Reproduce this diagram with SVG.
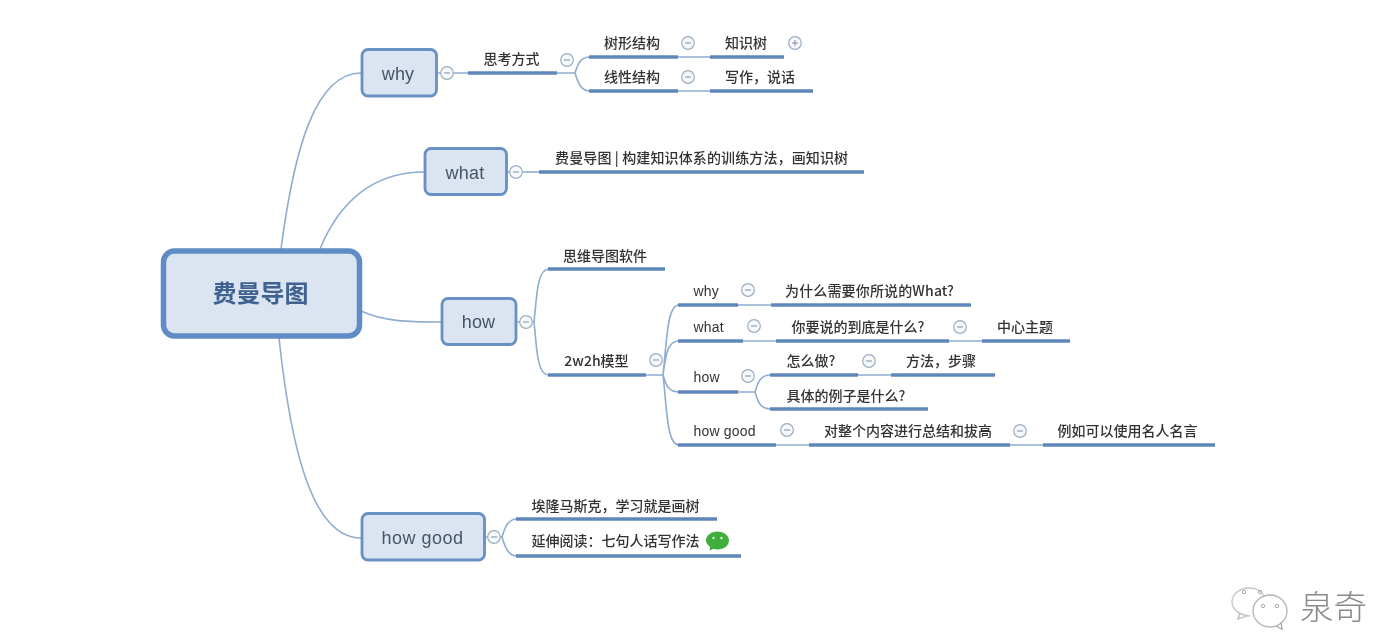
<svg xmlns="http://www.w3.org/2000/svg" width="1390" height="642" viewBox="0 0 1390 642">
<style>
.c{fill:none;stroke:#8eadd0;stroke-width:1.6}
.bar{fill:none;stroke:#5f86b8;stroke-width:3.6}
.col{fill:#f6f8fb;stroke:#9aaec2;stroke-width:1.2}
.sym{fill:none;stroke:#7d8fa3;stroke-width:1}
.t{font-family:"Noto Sans CJK SC","Liberation Sans",sans-serif;font-size:14px;fill:#333;text-anchor:middle;font-weight:500}
.l{font-family:"Liberation Sans","Noto Sans CJK SC",sans-serif;font-size:14px;fill:#333;text-anchor:start;letter-spacing:.2px}
.b{fill:#dbe5f1;stroke:#6790c2;stroke-width:2.8}
.bt{font-family:"Liberation Sans",sans-serif;font-size:18px;fill:#465468;text-anchor:middle;letter-spacing:.2px}
</style>
<defs>
<filter id="soft" x="-5%" y="-5%" width="110%" height="110%"><feGaussianBlur stdDeviation="0.5"/></filter>
<g id="minus"><circle r="6.3" class="col"/><path d="M-3 0H3" class="sym"/></g>
<g id="plus"><circle r="6.3" class="col"/><path d="M-3 0H3M0-3V3" class="sym"/></g>
</defs>
<rect width="1390" height="642" fill="#fff"/>
<g filter="url(#soft)">
<g id="connectors">
<path class="c" d="M281 249C294 150 315 73 361 73"/>
<path class="c" d="M320 249C340 200 375 172 424 172"/>
<path class="c" d="M361 311C385 322 410 322 441 322"/>
<path class="c" d="M279 338C290 440 310 538 361 538"/>
<path class="c" d="M437 73H468M557 73H575M575 73C578 63 581 57 590 57M575 73C578 83 581 91 590 91"/>
<path class="c" d="M678 57H710M678 91H710"/>
<path class="c" d="M507 172H539"/>
<path class="c" d="M517 322H534M534 322C537 295 537 269 549 269M534 322C537 350 537 375 549 375"/>
<path class="c" d="M646 375H663M663 375C667 340 667 305 679 305M663 375C666 355 667 341 679 341M663 375C666 385 668 392 679 392M663 375C667 410 667 445 679 445"/>
<path class="c" d="M738 305H771M743 341H776M949 341H982M738 392H755M755 392C758 382 760 375 771 375M755 392C758 402 760 409 771 409M858 375H891M776 445H809M1010 445H1043"/>
<path class="c" d="M486 537H502M502 537C505 527 508 519 517 519M502 537C505 547 508 556 517 556"/>
<g class="bars">
<path class="bar" d="M468 73H557"/>
<path class="bar" d="M589 57H678"/>
<path class="bar" d="M589 91H678"/>
<path class="bar" d="M710 57H784"/>
<path class="bar" d="M710 91H813"/>
<path class="bar" d="M539 172H864"/>
<path class="bar" d="M548 269H665"/>
<path class="bar" d="M548 375H646"/>
<path class="bar" d="M678 305H738"/>
<path class="bar" d="M771 305H971"/>
<path class="bar" d="M678 341H743"/>
<path class="bar" d="M776 341H949"/>
<path class="bar" d="M982 341H1070"/>
<path class="bar" d="M678 392H738"/>
<path class="bar" d="M770 375H858"/>
<path class="bar" d="M891 375H995"/>
<path class="bar" d="M770 409H928"/>
<path class="bar" d="M678 445H776"/>
<path class="bar" d="M809 445H1010"/>
<path class="bar" d="M1043 445H1215"/>
<path class="bar" d="M516 519H717"/>
<path class="bar" d="M516 556H741"/>
</g>
</g>
<g id="center"><rect x="163.500" y="251" width="196" height="85" rx="11" fill="#dbe5f1" stroke="#5f8cc4" stroke-width="5.500"/><text x="260.500" y="302" text-anchor="middle" font-family="Noto Sans CJK SC,sans-serif" font-size="24" font-weight="700" fill="#3f6290">费曼导图</text></g>
<g id="why"><rect class="b" x="362" y="49.500" width="74.500" height="46.500" rx="6"/><text class="bt" x="398" y="80">why</text><use href="#minus" x="447" y="73"/></g>
<g id="what"><rect class="b" x="425" y="148.500" width="81.500" height="46" rx="6"/><text class="bt" x="465" y="179">what</text><use href="#minus" x="516" y="172"/></g>
<g id="how"><rect class="b" x="442" y="298.500" width="74" height="46" rx="6"/><text class="bt" x="478.500" y="328">how</text><use href="#minus" x="526" y="322"/></g>
<g id="how-good"><rect class="b" x="362" y="513.500" width="122.500" height="46.500" rx="6"/><text class="bt" x="422.500" y="544" style="letter-spacing:.5px">how good</text><use href="#minus" x="494" y="537"/></g>
<g id="n-thinking"><text class="t" x="511.500" y="64">思考方式</text><use href="#minus" x="567" y="60"/></g>
<g id="n-tree"><text class="t" x="632" y="47.500">树形结构</text><use href="#minus" x="688" y="43"/></g>
<g id="n-knowledge"><text class="t" x="746" y="47.500">知识树</text><use href="#plus" x="795" y="43"/></g>
<g id="n-linear"><text class="t" x="632" y="81.500">线性结构</text><use href="#minus" x="688" y="77"/></g>
<g id="n-writing"><text class="t" x="760" y="81.500">写作，说话</text></g>
<g id="n-feynman"><text class="t" x="701.500" y="162.500" textLength="293" lengthAdjust="spacing">费曼导图 | 构建知识体系的训练方法，画知识树</text></g>
<g id="n-software"><text class="t" x="605" y="260.500">思维导图软件</text></g>
<g id="n-2w2h"><text class="t" x="596.500" y="365.500">2w2h模型</text><use href="#minus" x="656" y="360"/></g>
<g id="n2-why"><text class="l" x="693.500" y="296">why</text><use href="#minus" x="748" y="290"/></g>
<g id="n-whatneed"><text class="t" x="869.500" y="295.500" textLength="169" lengthAdjust="spacing">为什么需要你所说的What?</text></g>
<g id="n2-what"><text class="l" x="693.500" y="331.500">what</text><use href="#minus" x="754" y="326"/></g>
<g id="n-whatis"><text class="t" x="858" y="331.500">你要说的到底是什么?</text><use href="#minus" x="960" y="327"/></g>
<g id="n-theme"><text class="t" x="1025" y="331.500">中心主题</text></g>
<g id="n2-how"><text class="l" x="693.500" y="382">how</text><use href="#minus" x="748" y="376"/></g>
<g id="n-howdo"><text class="t" x="811" y="365.500">怎么做?</text><use href="#minus" x="869" y="361"/></g>
<g id="n-method"><text class="t" x="941" y="365.500">方法，步骤</text></g>
<g id="n-example"><text class="t" x="846" y="400.500">具体的例子是什么?</text></g>
<g id="n2-howgood"><text class="l" x="693.500" y="436">how good</text><use href="#minus" x="787" y="430"/></g>
<g id="n-summary"><text class="t" x="908" y="436">对整个内容进行总结和拔高</text><use href="#minus" x="1020" y="431"/></g>
<g id="n-quote"><text class="t" x="1127.500" y="436">例如可以使用名人名言</text></g>
<g id="n-musk"><text class="t" x="615.500" y="510.500">埃隆马斯克，学习就是画树</text></g>
<g id="n-reading"><text class="t" x="615.500" y="546">延伸阅读：七句人话写作法</text>
<path d="M717.500 531.500c6.500 0 11.500 4 11.500 9s-5 9-11.500 9c-1.500 0-3-.2-4.300-.7l-3.700 2 .7-3.800c-2.500-1.700-4.200-4-4.200-6.500 0-5 5-9 11.500-9z" fill="#3fae3c"/>
<circle cx="713.500" cy="538" r="1.200" fill="#dff3dc"/><circle cx="721.500" cy="538" r="1.200" fill="#dff3dc"/></g>
</g>
<g id="watermark" filter="url(#soft)">
<path d="M1250 616c-10-1-18-6-18-14 0-8 8-14 17-14 7 0 13 3 15 8" fill="none" stroke="#c4c4c4" stroke-width="1.300"/>
<path d="M1240 613l-2 6 9-3" fill="none" stroke="#b9b9b9" stroke-width="1.300"/>
<circle cx="1244" cy="592" r="1.700" fill="none" stroke="#aaa"/><circle cx="1260" cy="592" r="1.700" fill="none" stroke="#aaa"/>
<ellipse cx="1270" cy="611" rx="17" ry="16" fill="none" stroke="#b4b4b4" stroke-width="1.300"/>
<path d="M1276 626l6 3-1-7" fill="none" stroke="#aaa" stroke-width="1.300"/>
<circle cx="1263" cy="606" r="1.700" fill="none" stroke="#aaa"/><circle cx="1277" cy="606" r="1.700" fill="none" stroke="#aaa"/>
<text x="1333.500" y="619" text-anchor="middle" font-family="Noto Sans CJK SC,sans-serif" font-size="33.500" font-weight="300" fill="#8a8a8a">泉奇</text>
</g>
</svg>
